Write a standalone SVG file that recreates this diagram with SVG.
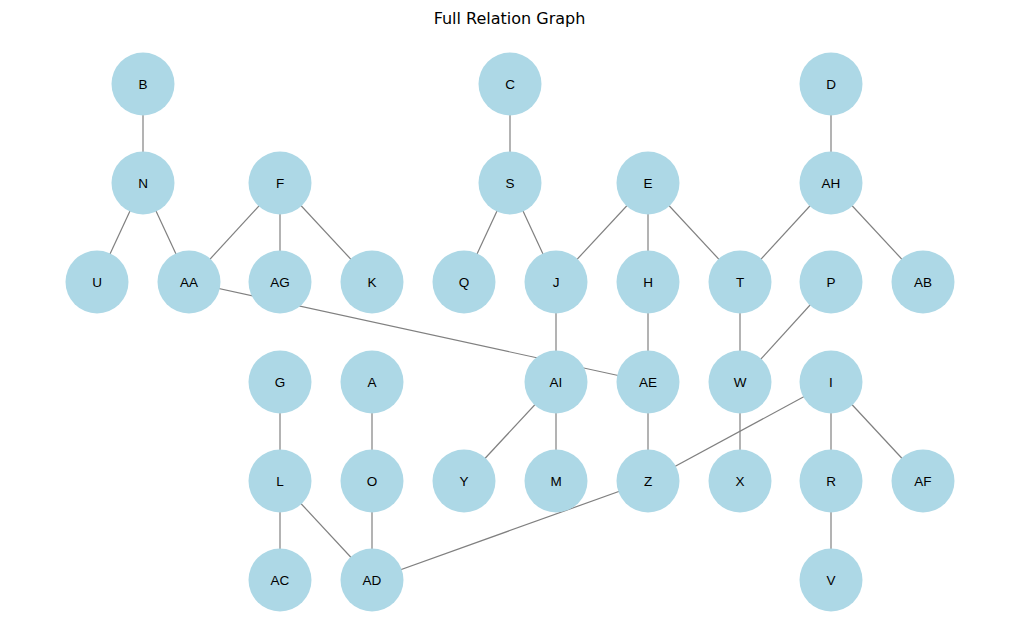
<svg xmlns="http://www.w3.org/2000/svg" width="1019" height="642" viewBox="0 0 1019 642">
  <style>
    .edge { stroke: #808080; stroke-width: 1.2; fill: none; }
    .node circle { fill: #add8e6; }
    .node text { font-family: "Liberation Sans", Arial, sans-serif; font-size: 13.5px; fill: #000; text-anchor: middle; dominant-baseline: central; }
    .title { font-family: "DejaVu Sans", sans-serif; font-size: 16px; fill: #000; text-anchor: middle; }
  </style>
  <rect width="1019" height="642" fill="#ffffff"/>
  <text class="title" x="509.5" y="24">Full Relation Graph</text>

  <g id="edges">
    <line class="edge" x1="143" y1="84" x2="143" y2="183"/>
    <line class="edge" x1="143" y1="183" x2="97" y2="282"/>
    <line class="edge" x1="143" y1="183" x2="189" y2="282"/>
    <line class="edge" x1="280" y1="183" x2="189" y2="282"/>
    <line class="edge" x1="280" y1="183" x2="280" y2="282"/>
    <line class="edge" x1="280" y1="183" x2="372" y2="282"/>
    <line class="edge" x1="510" y1="84" x2="510" y2="183"/>
    <line class="edge" x1="510" y1="183" x2="464" y2="282"/>
    <line class="edge" x1="510" y1="183" x2="556" y2="282"/>
    <line class="edge" x1="648" y1="183" x2="556" y2="282"/>
    <line class="edge" x1="648" y1="183" x2="648" y2="282"/>
    <line class="edge" x1="648" y1="183" x2="740" y2="282"/>
    <line class="edge" x1="831" y1="84" x2="831" y2="183"/>
    <line class="edge" x1="831" y1="183" x2="740" y2="282"/>
    <line class="edge" x1="831" y1="183" x2="923" y2="282"/>
    <line class="edge" x1="556" y1="282" x2="556" y2="382"/>
    <line class="edge" x1="648" y1="282" x2="648" y2="382"/>
    <line class="edge" x1="740" y1="282" x2="740" y2="382"/>
    <line class="edge" x1="831" y1="282" x2="740" y2="382"/>
    <line class="edge" x1="189" y1="282" x2="648" y2="382"/>
    <line class="edge" x1="556" y1="382" x2="464" y2="481"/>
    <line class="edge" x1="556" y1="382" x2="556" y2="481"/>
    <line class="edge" x1="648" y1="382" x2="648" y2="481"/>
    <line class="edge" x1="740" y1="382" x2="740" y2="481"/>
    <line class="edge" x1="831" y1="382" x2="648" y2="481"/>
    <line class="edge" x1="831" y1="382" x2="831" y2="481"/>
    <line class="edge" x1="831" y1="382" x2="923" y2="481"/>
    <line class="edge" x1="280" y1="382" x2="280" y2="481"/>
    <line class="edge" x1="372" y1="382" x2="372" y2="481"/>
    <line class="edge" x1="280" y1="481" x2="280" y2="580"/>
    <line class="edge" x1="280" y1="481" x2="372" y2="580"/>
    <line class="edge" x1="372" y1="481" x2="372" y2="580"/>
    <line class="edge" x1="648" y1="481" x2="372" y2="580"/>
    <line class="edge" x1="831" y1="481" x2="831" y2="580"/>
  </g>

  <g id="node-B" class="node"><circle cx="143" cy="84" r="31.5"/><text x="143" y="84">B</text></g>
  <g id="node-C" class="node"><circle cx="510" cy="84" r="31.5"/><text x="510" y="84">C</text></g>
  <g id="node-D" class="node"><circle cx="831" cy="84" r="31.5"/><text x="831" y="84">D</text></g>

  <g id="node-N" class="node"><circle cx="143" cy="183" r="31.5"/><text x="143" y="183">N</text></g>
  <g id="node-F" class="node"><circle cx="280" cy="183" r="31.5"/><text x="280" y="183">F</text></g>
  <g id="node-S" class="node"><circle cx="510" cy="183" r="31.5"/><text x="510" y="183">S</text></g>
  <g id="node-E" class="node"><circle cx="648" cy="183" r="31.5"/><text x="648" y="183">E</text></g>
  <g id="node-AH" class="node"><circle cx="831" cy="183" r="31.5"/><text x="831" y="183">AH</text></g>

  <g id="node-U" class="node"><circle cx="97" cy="282" r="31.5"/><text x="97" y="282">U</text></g>
  <g id="node-AA" class="node"><circle cx="189" cy="282" r="31.5"/><text x="189" y="282">AA</text></g>
  <g id="node-AG" class="node"><circle cx="280" cy="282" r="31.5"/><text x="280" y="282">AG</text></g>
  <g id="node-K" class="node"><circle cx="372" cy="282" r="31.5"/><text x="372" y="282">K</text></g>
  <g id="node-Q" class="node"><circle cx="464" cy="282" r="31.5"/><text x="464" y="282">Q</text></g>
  <g id="node-J" class="node"><circle cx="556" cy="282" r="31.5"/><text x="556" y="282">J</text></g>
  <g id="node-H" class="node"><circle cx="648" cy="282" r="31.5"/><text x="648" y="282">H</text></g>
  <g id="node-T" class="node"><circle cx="740" cy="282" r="31.5"/><text x="740" y="282">T</text></g>
  <g id="node-P" class="node"><circle cx="831" cy="282" r="31.5"/><text x="831" y="282">P</text></g>
  <g id="node-AB" class="node"><circle cx="923" cy="282" r="31.5"/><text x="923" y="282">AB</text></g>

  <g id="node-G" class="node"><circle cx="280" cy="382" r="31.5"/><text x="280" y="382">G</text></g>
  <g id="node-A" class="node"><circle cx="372" cy="382" r="31.5"/><text x="372" y="382">A</text></g>
  <g id="node-AI" class="node"><circle cx="556" cy="382" r="31.5"/><text x="556" y="382">AI</text></g>
  <g id="node-AE" class="node"><circle cx="648" cy="382" r="31.5"/><text x="648" y="382">AE</text></g>
  <g id="node-W" class="node"><circle cx="740" cy="382" r="31.5"/><text x="740" y="382">W</text></g>
  <g id="node-I" class="node"><circle cx="831" cy="382" r="31.5"/><text x="831" y="382">I</text></g>

  <g id="node-L" class="node"><circle cx="280" cy="481" r="31.5"/><text x="280" y="481">L</text></g>
  <g id="node-O" class="node"><circle cx="372" cy="481" r="31.5"/><text x="372" y="481">O</text></g>
  <g id="node-Y" class="node"><circle cx="464" cy="481" r="31.5"/><text x="464" y="481">Y</text></g>
  <g id="node-M" class="node"><circle cx="556" cy="481" r="31.5"/><text x="556" y="481">M</text></g>
  <g id="node-Z" class="node"><circle cx="648" cy="481" r="31.5"/><text x="648" y="481">Z</text></g>
  <g id="node-X" class="node"><circle cx="740" cy="481" r="31.5"/><text x="740" y="481">X</text></g>
  <g id="node-R" class="node"><circle cx="831" cy="481" r="31.5"/><text x="831" y="481">R</text></g>
  <g id="node-AF" class="node"><circle cx="923" cy="481" r="31.5"/><text x="923" y="481">AF</text></g>

  <g id="node-AC" class="node"><circle cx="280" cy="580" r="31.5"/><text x="280" y="580">AC</text></g>
  <g id="node-AD" class="node"><circle cx="372" cy="580" r="31.5"/><text x="372" y="580">AD</text></g>
  <g id="node-V" class="node"><circle cx="831" cy="580" r="31.5"/><text x="831" y="580">V</text></g>
</svg>
